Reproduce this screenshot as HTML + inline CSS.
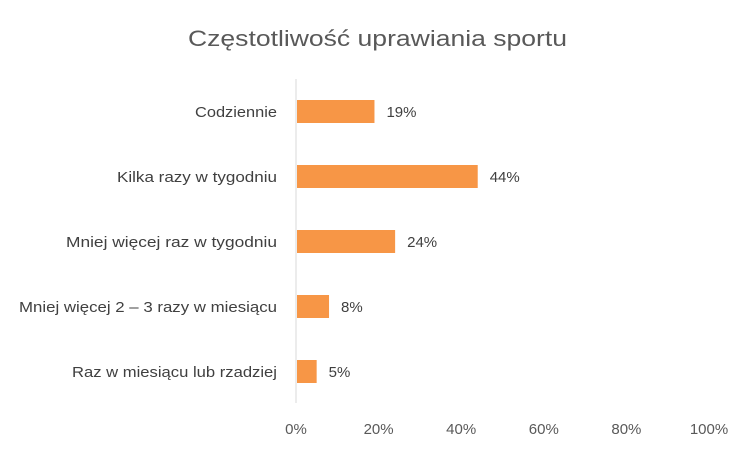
<!DOCTYPE html>
<html><head><meta charset="utf-8"><style>
body{margin:0;background:#fff}
svg{display:block;font-family:"Liberation Sans",sans-serif}
</style></head><body>
<svg id="chart" width="754" height="454" viewBox="0 0 754 454">
<rect width="754" height="454" fill="#fff"/>
<text x="377.5" y="46" text-anchor="middle" font-size="22" fill="#595959" textLength="379" lengthAdjust="spacingAndGlyphs">Częstotliwość uprawiania sportu</text>
<line x1="296" y1="79" x2="296" y2="403" stroke="#d9d9d9" stroke-width="1"/>
<g id="bars"></g>
<g id="ticks"></g>
</svg>
<script>
const categories = ["Codziennie","Kilka razy w tygodniu","Mniej więcej raz w tygodniu","Mniej więcej 2 – 3 razy w miesiącu","Raz w miesiącu  lub rzadziej"];
const values = [19,44,24,8,5];
const valueLabels = ["19%","44%","24%","8%","5%"];
const tickValues = [0,20,40,60,80,100];
const tickLabels = ["0%","20%","40%","60%","80%","100%"];
const labelWidths = [82,160,211,258,205];

const NS="http://www.w3.org/2000/svg";
const x0=296, x1=709;
const xScale=v=>x0+(x1-x0)*v/100;
const yBand=i=>100+i*65;
const barH=23;
const gb=document.getElementById('bars');
const gt=document.getElementById('ticks');
function mk(t,a){const e=document.createElementNS(NS,t);for(const k in a)e.setAttribute(k,a[k]);return e;}
categories.forEach((c,i)=>{
  const y=yBand(i);
  const r=mk('rect',{x:x0+1,y:y,width:Math.max(0,xScale(values[i])-x0-1),height:barH,fill:'#f79646'});
  
  
  gb.appendChild(r);
  const l=mk('text',{x:277,y:y+17,'text-anchor':'end','font-size':15,fill:'#404040',textLength:labelWidths[i],lengthAdjust:'spacingAndGlyphs'});
  l.textContent=c;
  
  
  gb.appendChild(l);
  const v=mk('text',{x:xScale(values[i])+12,y:y+17,'font-size':15,fill:'#404040'});
  v.textContent=valueLabels[i];
  
  
  gb.appendChild(v);
});
tickValues.forEach((t,i)=>{
  const e=mk('text',{x:xScale(t),y:434,'text-anchor':'middle','font-size':15,fill:'#595959'});
  e.textContent=tickLabels[i];
  
  
  gt.appendChild(e);
});
</script>
</body></html>
